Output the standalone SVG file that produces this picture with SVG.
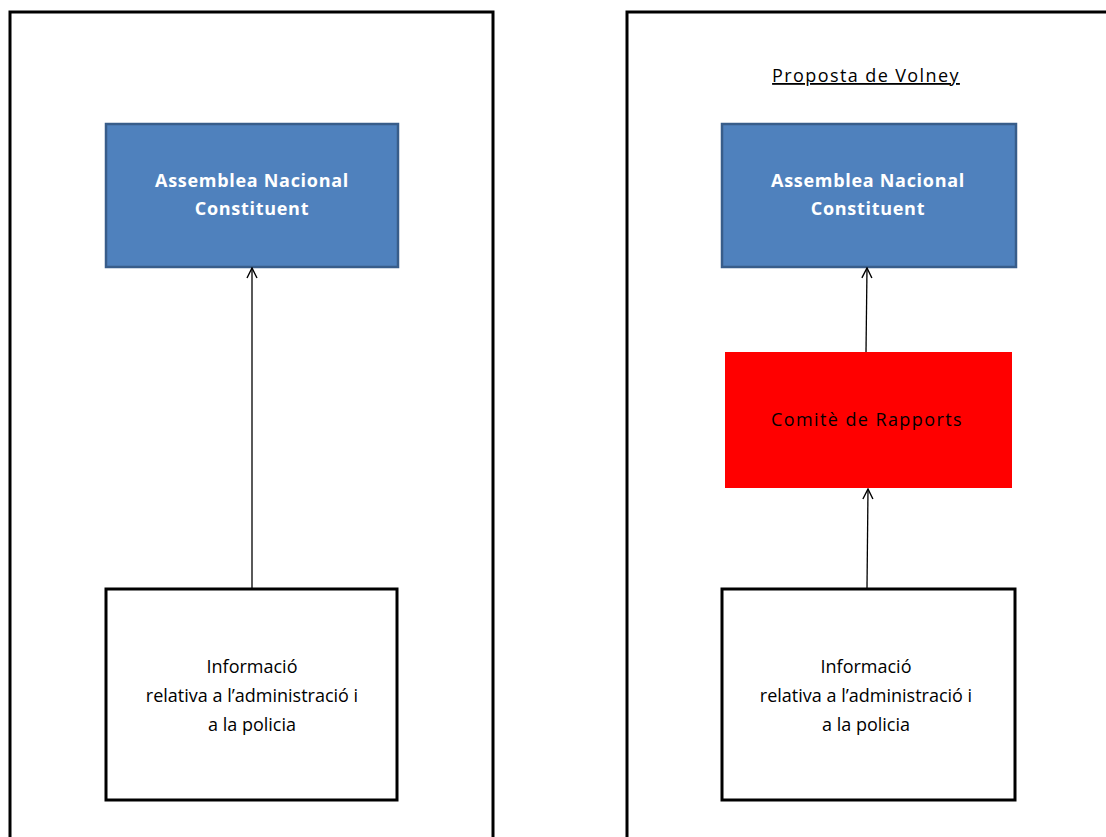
<svg xmlns="http://www.w3.org/2000/svg" width="1106" height="837" viewBox="0 0 1106 837">
<defs>
<style>
.panel{fill:#fff;stroke:#000;stroke-width:3}
.blue{fill:#4F81BD;stroke:#385D8A;stroke-width:2.5}
.red{fill:#FF0000;stroke:none}
.white{fill:#fff;stroke:#000;stroke-width:3}
.tw{font-family:"Open Sans","Liberation Sans",sans-serif;font-size:18px;font-weight:bold;fill:#fff;text-anchor:middle;letter-spacing:0.7px}
.tb{font-family:"Open Sans","Liberation Sans",sans-serif;font-size:18px;fill:#000;text-anchor:middle}
.wide{letter-spacing:1.4px}
.conn{stroke:#000;stroke-width:1.3;fill:none}
</style>
<marker id="arr" viewBox="0 0 12 12" refX="11" refY="6" markerWidth="12" markerHeight="12" markerUnits="userSpaceOnUse" orient="auto">
<path d="M1,1 L11,6 L1,11" fill="none" stroke="#000" stroke-width="1.4"/>
</marker>
</defs>
<rect width="1106" height="837" fill="#fff"/>
<g id="panel-left"><rect class="panel" x="10" y="12" width="483" height="840"/></g>
<g id="panel-right"><rect class="panel" x="627" y="12" width="500" height="840"/></g>
<g id="title-right"><text class="tb wide" x="866" y="82" text-decoration="underline">Proposta de Volney</text></g>
<g id="assemblea-left"><rect class="blue" x="106" y="124" width="292" height="143"/>
<text class="tw" x="252" y="187">Assemblea Nacional</text><text class="tw" x="252" y="215">Constituent</text></g>
<g id="assemblea-right"><rect class="blue" x="722" y="124" width="294" height="143"/>
<text class="tw" x="868" y="187">Assemblea Nacional</text><text class="tw" x="868" y="215">Constituent</text></g>
<g id="comite"><rect class="red" x="725" y="352" width="287" height="136"/>
<text class="tb wide" x="867" y="426">Comitè de Rapports</text></g>
<g id="info-left"><rect class="white" x="106" y="589" width="291" height="211"/>
<text class="tb" x="252" y="673">Informació</text><text class="tb" x="252" y="702">relativa a l’administració i</text><text class="tb" x="252" y="731">a la policia</text></g>
<g id="info-right"><rect class="white" x="722" y="589" width="293" height="211"/>
<text class="tb" x="866" y="673">Informació</text><text class="tb" x="866" y="702">relativa a l’administració i</text><text class="tb" x="866" y="731">a la policia</text></g>
<g id="connectors">
<line class="conn" x1="252" y1="588" x2="252" y2="268" marker-end="url(#arr)"/>
<line class="conn" x1="866" y1="352" x2="867" y2="268" marker-end="url(#arr)"/>
<line class="conn" x1="867" y1="588" x2="868" y2="489" marker-end="url(#arr)"/>
</g>
</svg>
